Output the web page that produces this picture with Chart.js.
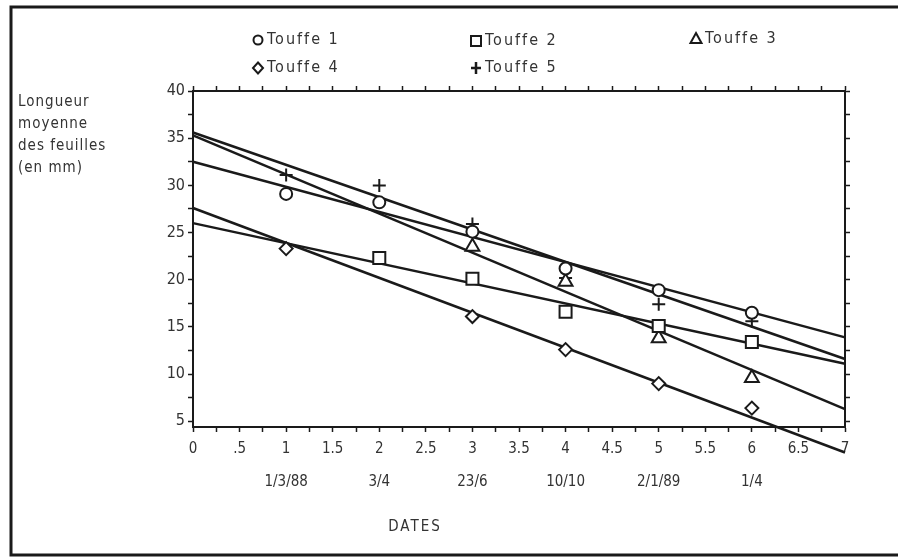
<!DOCTYPE html>
<html>
<head>
<meta charset="utf-8">
<title>Longueur moyenne des feuilles</title>
<script src="https://cdn.jsdelivr.net/npm/chart.js@4/dist/chart.umd.min.js"></script>
<style>
  html, body { margin: 0; padding: 0; background: #fff; }
  #wrap { width: 898px; height: 557px; position: relative; }
</style>
</head>
<body>
<div id="wrap"><canvas id="chart-lines" width="898" height="557"></canvas></div>
<script>
// data

var dates = [1, 2, 3, 4, 5, 6];
var dateLabels = ["1/3/88", "3/4", "23/6", "10/10", "2/1/89", "1/4"];

var touffe1 = [29.1, 28.2, 25.1, 21.2, 18.9, 16.5];
var touffe2 = [null, 22.3, 20.1, 16.6, 15.1, 13.4];
var touffe3 = [null, null, 23.5, 19.8, 13.8, 9.6];
var touffe4 = [23.3, null, 16.1, 12.6, 9.0, 6.4];
var touffe5 = [31.1, 30.0, 25.9, 20.2, 17.4, 15.6];

// regression lines, value at x = 0 and x = 7
var fitX = [0, 7];
var fit1 = [32.5, 13.9];
var fit2 = [26.0, 11.1];
var fit3 = [35.3, 6.3];
var fit4 = [27.6, 1.7];
var fit5 = [35.6, 11.6];

var seriesNames = ["Touffe 1", "Touffe 2", "Touffe 3", "Touffe 4", "Touffe 5"];

var xTickLabels = ["0", ".5", "1", "1.5", "2", "2.5", "3", "3.5", "4", "4.5", "5", "5.5", "6", "6.5", "7"];
var yTickLabels = ["5", "10", "15", "20", "25", "30", "35", "40"];

var yTitle = ["Longueur", "moyenne", "des feuilles", "(en mm)"];
var xTitle = "DATES";

var INK = "#1a1a1a";
var TEXT = "#333";
var FONT = "'DejaVu Sans Condensed', 'DejaVu Sans', sans-serif";

Chart.defaults.font.family = FONT;
Chart.defaults.color = TEXT;

function pairs(xs, ys) {
    var out = [];
    for (var i = 0; i < xs.length; i++) {
        if (ys[i] !== null) out.push({ x: xs[i], y: ys[i] });
    }
    return out;
}

// tick positions: every .25 on x, every 2.5 on y (labels only on the main ones)
var xTickValues = [];
for (var i = 0; i <= 28; i++) xTickValues.push(i * 0.25);
var yTickValues = [];
for (var j = 2; j <= 16; j++) yTickValues.push(j * 2.5);

function xLabel(value) {
    if (Math.round(value * 4) % 2 !== 0) return "";
    var k = Math.round(value * 2);
    var d = dates.indexOf(value);
    if (d >= 0) return [xTickLabels[k], "", dateLabels[d]];
    return xTickLabels[k];
}

function yLabel(value) {
    if (value % 5 !== 0) return "";
    return yTickLabels[value / 5 - 1];
}

var pointStyles = ["circle", "rect", "triangle", "rectRot", "cross"];
var pointSizes = [6, 8.5, 8, 6.5, 6.5];
var pointData = [touffe1, touffe2, touffe3, touffe4, touffe5];
var fitData = [fit1, fit2, fit3, fit4, fit5];

var datasets = [];
pointData.forEach(function (vals, i) {
    datasets.push({
        type: "scatter",
        label: seriesNames[i],
        data: pairs(dates, vals),
        pointStyle: pointStyles[i],
        pointRadius: pointSizes[i],
        pointBorderWidth: 2,
        borderColor: INK,
        backgroundColor: "#fff",
        showLine: false,
        order: 1
    });
});
fitData.forEach(function (vals, i) {
    datasets.push({
        type: "line",
        label: seriesNames[i] + " (droite)",
        data: pairs(fitX, vals),
        borderColor: INK,
        borderWidth: 2.5,
        pointRadius: 0,
        fill: false,
        clip: false,
        order: 2
    });
});

function fixed(size) {
    return function (scale) {
        if (scale.isHorizontal()) scale.height = size;
        else scale.width = size;
    };
}

function setTicks(values) {
    return function (scale) {
        scale.ticks = values.map(function (v) { return { value: v }; });
    };
}

var axisGrid = {
    display: true,
    drawOnChartArea: false,
    drawTicks: true,
    tickLength: 5,
    tickColor: INK,
    tickWidth: 1.5
};
var axisBorder = { display: true, color: INK, width: 2 };

// frame, free texts and legend
var decorations = {
    id: "decorations",
    afterDraw: function (chart) {
        var ctx = chart.ctx;
        ctx.save();

        ctx.strokeStyle = INK;
        ctx.lineWidth = 3;
        ctx.beginPath();
        ctx.moveTo(898, 7);
        ctx.lineTo(11, 7);
        ctx.lineTo(11, 555);
        ctx.lineTo(898, 555);
        ctx.stroke();

        ctx.fillStyle = TEXT;
        ctx.font = "15px " + FONT;
        ctx.letterSpacing = "1px";
        ctx.textAlign = "left";
        ctx.textBaseline = "middle";
        yTitle.forEach(function (line, i) {
            ctx.fillText(line, 18, 102 + i * 22);
        });

        ctx.letterSpacing = "2px";
        ctx.textAlign = "center";
        ctx.fillText(xTitle, 415, 527);

        var spots = [[258, 40], [476, 41], [696, 39], [258, 68], [476, 68]];
        ctx.font = "16px " + FONT;
        ctx.textAlign = "left";
        seriesNames.forEach(function (name, i) {
            var x = spots[i][0], y = spots[i][1];
            drawMarker(ctx, pointStyles[i], x, y);
            ctx.fillStyle = TEXT;
            ctx.fillText(name, x + 9, y);
        });

        ctx.restore();
    }
};

function drawMarker(ctx, style, x, y) {
    ctx.save();
    ctx.strokeStyle = INK;
    ctx.fillStyle = "#fff";
    ctx.lineWidth = 2;
    ctx.beginPath();
    if (style === "circle") {
        ctx.arc(x, y, 4.5, 0, Math.PI * 2);
    } else if (style === "rect") {
        ctx.rect(x - 5, y - 5, 10, 10);
    } else if (style === "triangle") {
        ctx.moveTo(x, y - 6);
        ctx.lineTo(x + 5.5, y + 4);
        ctx.lineTo(x - 5.5, y + 4);
        ctx.closePath();
    } else if (style === "rectRot") {
        ctx.moveTo(x, y - 5.5);
        ctx.lineTo(x + 5, y);
        ctx.lineTo(x, y + 5.5);
        ctx.lineTo(x - 5, y);
        ctx.closePath();
    } else {
        ctx.moveTo(x, y - 6);
        ctx.lineTo(x, y + 6);
        ctx.moveTo(x - 5, y);
        ctx.lineTo(x + 5, y);
        ctx.lineWidth = 2.5;
        ctx.stroke();
        ctx.restore();
        return;
    }
    ctx.fill();
    ctx.stroke();
    ctx.restore();
}

var ctx1 = document.getElementById("chart-lines").getContext("2d");

new Chart(ctx1, {
    type: "scatter",
    data: { datasets: datasets },
    plugins: [decorations],
    options: {
        responsive: false,
        animation: false,
        events: [],
        layout: { padding: 0 },
        plugins: {
            legend: { display: false },
            tooltip: { enabled: false }
        },
        scales: {
            x: {
                type: "linear",
                position: "bottom",
                min: 0,
                max: 7,
                afterBuildTicks: setTicks(xTickValues),
                afterFit: fixed(130),
                grid: axisGrid,
                border: axisBorder,
                ticks: {
                    autoSkip: false,
                    maxRotation: 0,
                    padding: 9,
                    color: TEXT,
                    font: { size: 15, lineHeight: 1.1 },
                    callback: function (value) { return xLabel(value); }
                }
            },
            xTop: {
                type: "linear",
                position: "top",
                min: 0,
                max: 7,
                afterBuildTicks: setTicks(xTickValues),
                afterFit: fixed(91),
                grid: axisGrid,
                border: axisBorder,
                ticks: { display: false }
            },
            y: {
                type: "linear",
                position: "left",
                min: 4.4,
                max: 40,
                afterBuildTicks: setTicks(yTickValues),
                afterFit: fixed(193),
                grid: axisGrid,
                border: axisBorder,
                ticks: {
                    autoSkip: false,
                    padding: 3,
                    color: TEXT,
                    font: { size: 16 },
                    callback: function (value) { return yLabel(value); }
                }
            },
            yRight: {
                type: "linear",
                position: "right",
                min: 4.4,
                max: 40,
                afterBuildTicks: setTicks(yTickValues),
                afterFit: fixed(53),
                grid: axisGrid,
                border: axisBorder,
                ticks: { display: false }
            }
        }
    }
});
</script>
</body>
</html>
